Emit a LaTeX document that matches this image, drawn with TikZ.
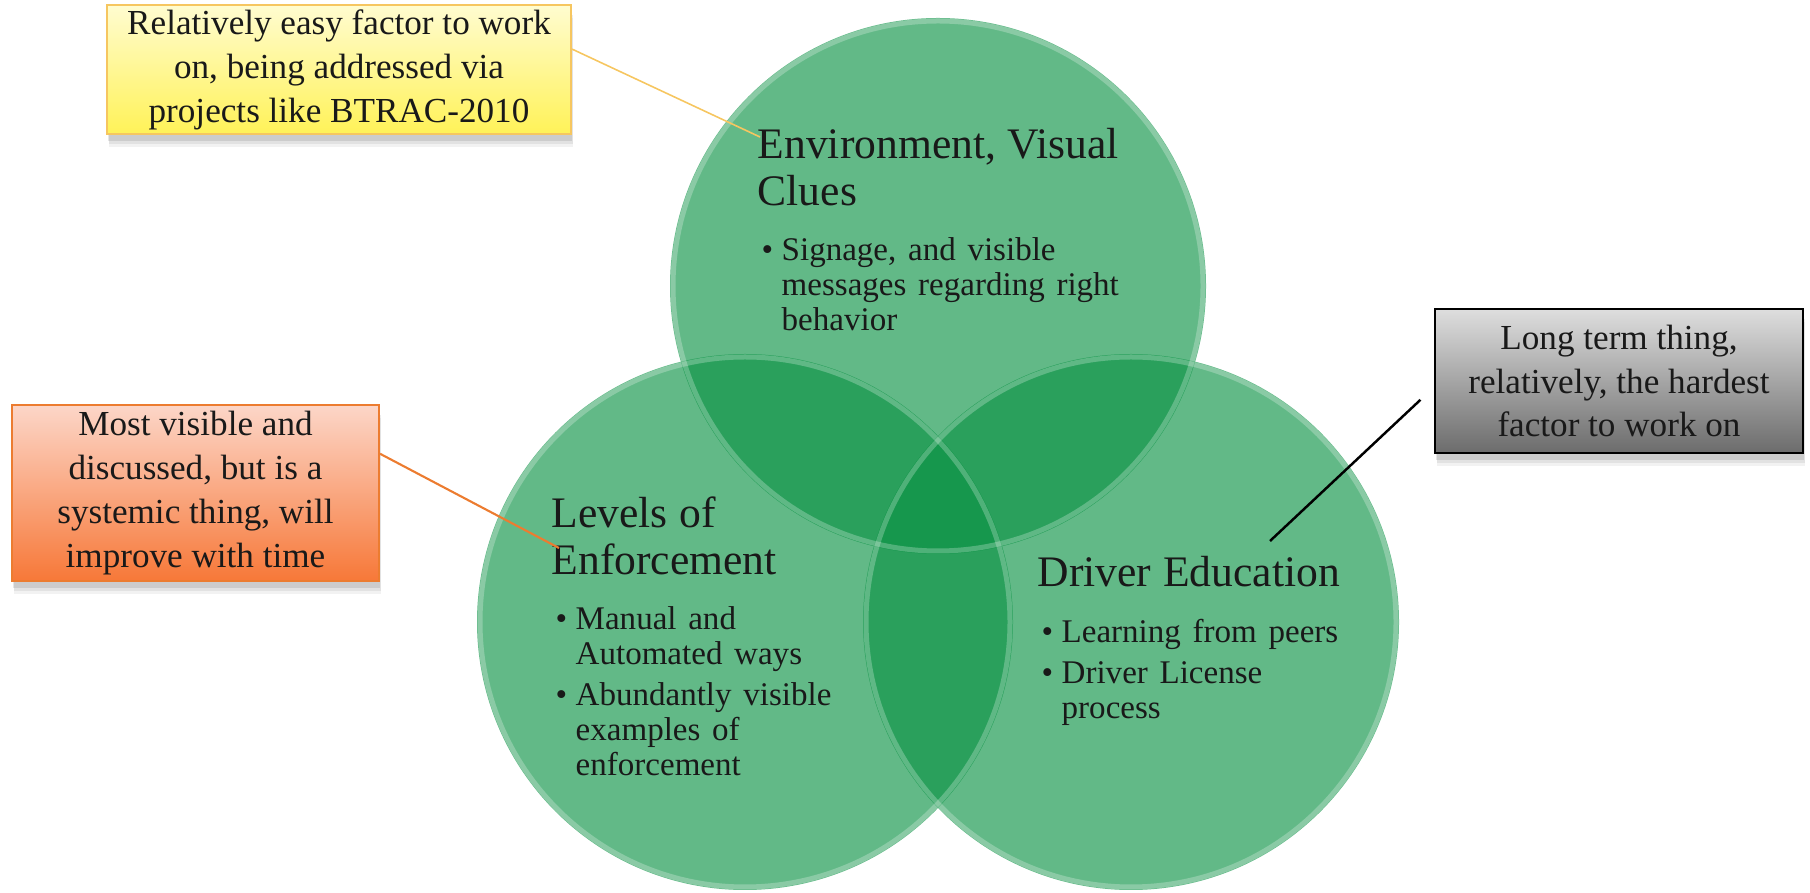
\documentclass[tikz,border=0pt]{standalone}
\usepackage{fontspec}
\setmainfont{Liberation Serif}
\usetikzlibrary{shadows}

\definecolor{venngreen}{RGB}{10,146,68}
\definecolor{easytop}{RGB}{255,252,208}
\definecolor{easybottom}{RGB}{255,242,88}
\definecolor{easyline}{RGB}{246,198,96}
\definecolor{systop}{RGB}{252,214,200}
\definecolor{sysbottom}{RGB}{247,120,56}
\definecolor{sysline}{RGB}{236,124,48}
\definecolor{hardtop}{RGB}{222,222,222}
\definecolor{hardbottom}{RGB}{108,108,108}

\newcommand{\headfont}{\fontsize{12.4}{13.1}\selectfont}
\newcommand{\listfont}{\fontsize{9.4}{10}\selectfont}
\newcommand{\notefont}{\fontsize{10}{12.5}\selectfont}
% one bullet line, and the lines that follow it under the same bullet
\newcommand{\vitem}[1]{\par\vspace{0.06cm}\noindent\makebox[0.24cm][l]{\hspace{0.04cm}\textbullet}#1}
\newcommand{\vcont}[1]{\par\noindent\hspace*{0.24cm}#1}

\tikzset{
	venn/.style={fill=venngreen, fill opacity=0.64},
	vennrim/.style={draw=white, draw opacity=0.25, line width=0.05cm},
	circletext/.style={anchor=base west, inner sep=0pt, align=left, text=black!90,
		execute at begin node={\lineskiplimit=-10pt\parskip=0pt}},
	note/.style={line width=0.6pt, align=center, inner sep=0pt, text=black!90, font=\notefont,
		drop shadow={shadow xshift=0.02cm, shadow yshift=-0.13cm, fill=black!70, opacity=0.07},
		drop shadow={shadow xshift=0.02cm, shadow yshift=-0.10cm, fill=black!70, opacity=0.10},
		drop shadow={shadow xshift=0.01cm, shadow yshift=-0.07cm, fill=black!70, opacity=0.14}},
	easynote/.style={note, top color=easytop, bottom color=easybottom, draw=easyline},
	sysnote/.style={note, top color=systop, bottom color=sysbottom, draw=sysline},
	hardnote/.style={note, top color=hardtop, bottom color=hardbottom, draw=black, line width=0.8pt},
}

\begin{document}
\begin{tikzpicture}
			%%%%% START %%%%%
			\useasboundingbox (0, 0) rectangle (18.10, 8.92);
			
			% the three factors
			\fill[venn] (9.38, 6.06) circle (2.68);
			\fill[venn] (7.45, 2.70) circle (2.68);
			\fill[venn] (11.31, 2.70) circle (2.68);
			\draw[vennrim] (9.38, 6.06) circle (2.65);
			\draw[vennrim] (7.45, 2.70) circle (2.65);
			\draw[vennrim] (11.31, 2.70) circle (2.65);
			
			\node[circletext, text width=4.2cm] (envtext) at (7.57, 7.33) {\headfont Environment, Visual\\Clues\par\vspace{0.14cm}\listfont
				\vitem{Signage, and visible}\vcont{messages regarding right}\vcont{behavior}\par};
			\node[circletext, text width=3.6cm] (enftext) at (5.51, 3.64) {\headfont Levels of\\Enforcement\par\vspace{0.14cm}\listfont
				\vitem{Manual and}\vcont{Automated ways}
				\vitem{Abundantly visible}\vcont{examples of}\vcont{enforcement}\par};
			\node[circletext, text width=3.6cm] (edutext) at (10.37, 3.05) {\headfont Driver Education\par\vspace{0.14cm}\listfont
				\vitem{Learning from peers}
				\vitem{Driver License}\vcont{process}\par};
			
			% callouts
			\node[easynote, minimum width=4.64cm, minimum height=1.29cm] (easy) at (3.39, 8.225) {Relatively easy factor to work\\on, being addressed via\\projects like BTRAC-2010};
			\node[sysnote, minimum width=3.67cm, minimum height=1.76cm] (system) at (1.955, 3.99) {Most visible and\\discussed, but is a\\systemic thing, will\\improve with time};
			\node[hardnote, minimum width=3.68cm, minimum height=1.44cm] (hard) at (16.19, 5.11) {Long term thing,\\relatively, the hardest\\factor to work on};
			
			\coordinate (envtip) at (7.60, 7.55);
			\coordinate (enftip) at (5.59, 3.44);
			\coordinate (edutip) at (12.70, 3.51);
			\draw[easyline, line width=0.45pt] (easy.5) -- (envtip);
			\draw[sysline, line width=0.6pt] (system.12) -- (enftip);
			\draw[black, line width=0.7pt, shorten <=0.18cm] (hard.182) -- (edutip);
			%%%%% END %%%%%
\end{tikzpicture}
\end{document}
